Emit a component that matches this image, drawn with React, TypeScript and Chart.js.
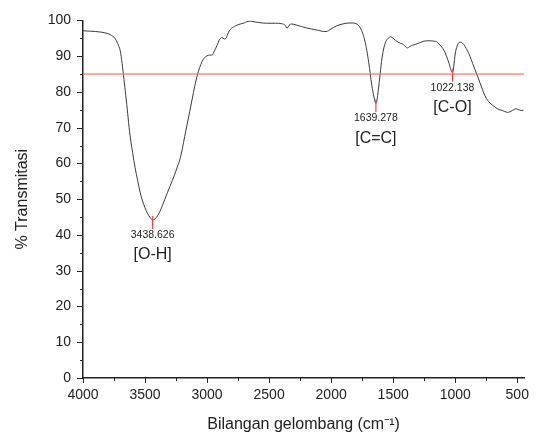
import React, { useEffect, useRef } from 'react';
import { Chart, registerables } from 'chart.js';

Chart.register(...registerables);

const wavenumbers = [
  4000, 3950, 3900, 3850, 3800, 3770, 3740, 3720, 3700, 3685, 3670, 3655, 3640, 3625, 3600, 3580, 3560, 3540, 3520, 3500,
  3480, 3460, 3438, 3420, 3400, 3380, 3360, 3340, 3320, 3300, 3280, 3260, 3240, 3220, 3200, 3180, 3160, 3140, 3120, 3100,
  3080, 3060, 3040, 3020, 3000, 2980, 2960, 2940, 2920, 2900, 2880, 2860, 2845, 2830, 2810, 2780, 2750, 2700, 2660, 2620,
  2580, 2520, 2450, 2400, 2370, 2355, 2340, 2320, 2280, 2240, 2200, 2160, 2100, 2060, 2040, 2000, 1960, 1920, 1880, 1840,
  1800, 1780, 1760, 1740, 1720, 1705, 1690, 1675, 1660, 1650, 1640, 1630, 1620, 1605, 1590, 1575, 1560, 1540, 1520, 1500,
  1480, 1460, 1440, 1420, 1400, 1385, 1370, 1350, 1320, 1290, 1260, 1230, 1200, 1170, 1150, 1130, 1110, 1090, 1070, 1050,
  1035, 1022, 1012, 1000, 985, 970, 955, 940, 920, 900, 880, 860, 840, 820, 800, 780, 760, 740, 720, 700,
  680, 660, 640, 620, 600, 580, 560, 540, 525, 510, 495, 480, 465, 450,
];

const transmittance = [
  97.1, 97.0, 96.9, 96.7, 96.3, 95.8, 94.9, 93.5, 91.5, 88.0, 83.5, 79.0, 74.0, 69.0, 63.0, 58.8, 55.3, 52.0, 49.5, 47.6,
  46.0, 44.9, 44.2, 44.5, 45.3, 46.6, 48.2, 50.0, 51.8, 53.5, 55.2, 57.0, 59.0, 61.0, 64.0, 67.6, 71.0, 74.5, 78.0, 81.5,
  84.5, 86.8, 88.5, 89.6, 90.1, 90.3, 90.3, 91.5, 93.0, 94.6, 95.2, 94.8, 95.2, 96.5, 97.6, 98.3, 98.8, 99.3, 99.8, 99.6,
  99.4, 99.2, 99.2, 99.1, 98.6, 97.8, 98.6, 99.0, 98.7, 98.3, 97.9, 97.6, 97.2, 96.9, 96.9, 97.6, 98.4, 98.9, 99.2, 99.3,
  99.1, 98.6, 97.6, 95.8, 93.0, 90.0, 86.5, 82.5, 79.5, 77.8, 76.8, 77.8, 80.5, 85.0, 89.5, 92.3, 94.0, 95.0, 95.4, 95.0,
  94.4, 93.9, 93.6, 93.3, 92.6, 92.3, 92.6, 93.0, 93.3, 93.7, 94.1, 94.3, 94.3, 94.2, 94.0, 93.4, 92.6, 91.6, 90.0, 88.0,
  86.2, 85.4, 87.0, 90.6, 92.8, 93.8, 93.9, 93.6, 92.7, 91.4, 89.9, 88.0, 86.2, 84.4, 82.5, 80.6, 78.9, 77.7, 76.9, 76.3,
  75.8, 75.3, 75.0, 74.8, 74.5, 74.3, 74.4, 74.8, 75.1, 75.3, 75.1, 74.9, 74.8, 74.9,
];

const peakWavenumbers = [3438.626, 1639.278, 1022.138];
const peakTransmittance = [44.2, 76.8, 85.4];
const peakLabels = ['3438.626', '1639.278', '1022.138'];
const bondLabels = ['[O-H]', '[C=C]', '[C-O]'];

const referenceLevel = 85;

const xMajorTicks = [4000, 3500, 3000, 2500, 2000, 1500, 1000, 500];
const xMinorTicks = [3750, 3250, 2750, 2250, 1750, 1250, 750];
const yMajorTicks = [0, 10, 20, 30, 40, 50, 60, 70, 80, 90, 100];
const yMinorTicks = [5, 15, 25, 35, 45, 55, 65, 75, 85, 95];

const FONT = '"Liberation Sans", Arial, Helvetica, sans-serif';

const decorPlugin = {
  id: 'decor',
  afterDraw(chart: any) {
    const { ctx, scales } = chart;
    const xs = scales.x;
    const ys = scales.y;
    const axisY = ys.getPixelForValue(0);
    const axisX = xs.left;
    ctx.save();
    ctx.strokeStyle = '#222';
    ctx.lineWidth = 1;
    ctx.beginPath();
    xMajorTicks.forEach((v) => {
      const px = Math.round(xs.getPixelForValue(v)) + 0.5;
      ctx.moveTo(px, axisY);
      ctx.lineTo(px, axisY + 5);
    });
    xMinorTicks.forEach((v) => {
      const px = Math.round(xs.getPixelForValue(v)) + 0.5;
      ctx.moveTo(px, axisY);
      ctx.lineTo(px, axisY + 3);
    });
    yMajorTicks.forEach((v) => {
      const py = Math.round(ys.getPixelForValue(v)) + 0.5;
      ctx.moveTo(axisX, py);
      ctx.lineTo(axisX - 6, py);
    });
    yMinorTicks.forEach((v) => {
      const py = Math.round(ys.getPixelForValue(v)) + 0.5;
      ctx.moveTo(axisX, py);
      ctx.lineTo(axisX - 3, py);
    });
    ctx.stroke();

    peakWavenumbers.forEach((w, i) => {
      const px = xs.getPixelForValue(w);
      const py = ys.getPixelForValue(peakTransmittance[i]);
      const top = py - 4;
      const bottom = top + 13;
      ctx.strokeStyle = '#ff4040';
      ctx.lineWidth = 1.2;
      ctx.beginPath();
      ctx.moveTo(px, top);
      ctx.lineTo(px, bottom);
      ctx.stroke();
      ctx.fillStyle = '#222';
      ctx.textAlign = 'center';
      ctx.textBaseline = 'middle';
      ctx.font = `10.5px ${FONT}`;
      ctx.fillText(peakLabels[i], px, bottom + 6);
      ctx.font = `16px ${FONT}`;
      ctx.fillText(bondLabels[i], px, bottom + 26);
    });
    ctx.restore();
  },
};

export default function App() {
  const canvasRef = useRef<HTMLCanvasElement | null>(null);

  useEffect(() => {
    if (!canvasRef.current) return;
    const spectrum = wavenumbers.map((w, i) => ({ x: w, y: transmittance[i] }));
    const refLine = [
      { x: 4000, y: referenceLevel },
      { x: 445, y: referenceLevel },
    ];
    const chart = new Chart(canvasRef.current, {
      type: 'line',
      data: {
        datasets: [
          {
            data: refLine,
            borderColor: 'rgba(255, 100, 100, 0.75)',
            borderWidth: 1.5,
            pointRadius: 0,
          },
          {
            data: spectrum,
            borderColor: '#3c3c3c',
            borderWidth: 1,
            pointRadius: 0,
            cubicInterpolationMode: 'monotone',
          },
        ],
      },
      options: {
        animation: false,
        responsive: true,
        maintainAspectRatio: false,
        layout: { padding: { left: 0, right: 5, top: 16, bottom: 0 } },
        plugins: { legend: { display: false }, tooltip: { enabled: false } },
        scales: {
          x: {
            type: 'linear',
            reverse: true,
            min: 445,
            max: 4000,
            afterBuildTicks: (s: any) => {
              s.ticks = xMajorTicks.map((v) => ({ value: v }));
            },
            afterFit: (s: any) => {
              s.height = 63;
            },
            grid: { display: false, drawTicks: false },
            border: { display: true, color: '#222', width: 1.5 },
            ticks: {
              autoSkip: false,
              maxRotation: 0,
              padding: 9,
              color: '#222',
              font: { family: FONT, size: 14 },
              callback: (v: any) => String(v),
            },
            title: {
              display: true,
              text: 'Bilangan gelombang (cm⁻¹)',
              color: '#222',
              font: { family: FONT, size: 16 },
              padding: { top: 0, bottom: 7 },
            },
          },
          y: {
            type: 'linear',
            min: 0,
            max: 100,
            afterBuildTicks: (s: any) => {
              s.ticks = yMajorTicks.map((v) => ({ value: v }));
            },
            afterFit: (s: any) => {
              s.width = 83;
            },
            grid: { display: false, drawTicks: false },
            border: { display: true, color: '#222', width: 1.5 },
            ticks: {
              padding: 12,
              color: '#222',
              font: { family: FONT, size: 14 },
              callback: (v: any) => String(v),
            },
            title: {
              display: true,
              text: '% Transmitasi',
              color: '#222',
              font: { family: FONT, size: 16 },
              padding: { top: 13, bottom: 0 },
            },
          },
        },
      },
      plugins: [decorPlugin],
    });
    return () => chart.destroy();
  }, []);

  return (
    <div style={{ position: 'fixed', left: 0, top: 0, width: 538, height: 441, background: '#fff' }}>
      <canvas ref={canvasRef} />
    </div>
  );
}
